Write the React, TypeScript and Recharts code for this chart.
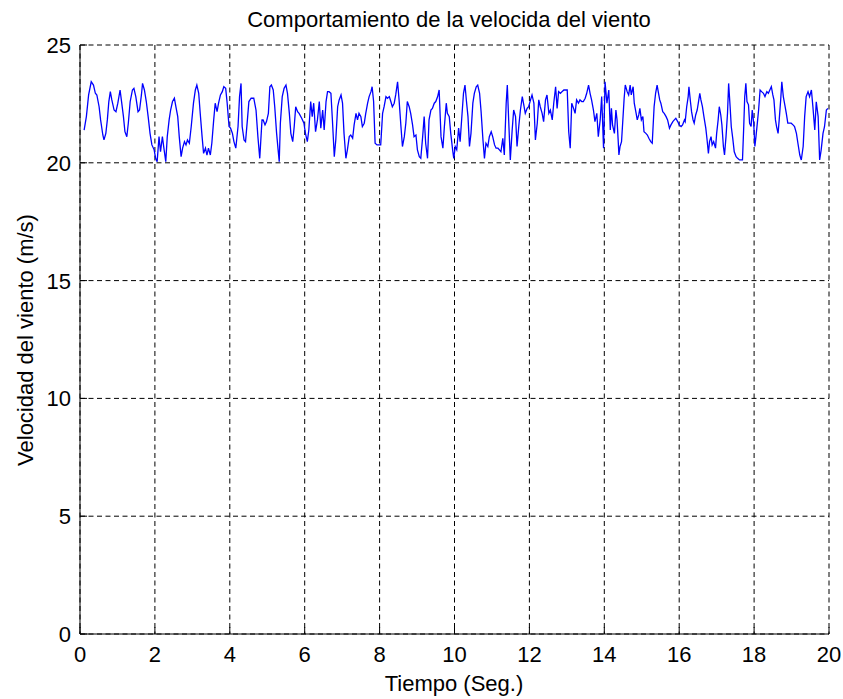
import React from 'react';
import { LineChart, Line, XAxis, YAxis, CartesianGrid } from 'recharts';

const TITLE = 'Comportamiento de la velocida del viento';
const X_LABEL = 'Tiempo (Seg.)';
const Y_LABEL = 'Velocidad del viento (m/s)';
const X_TICKS = [0, 2, 4, 6, 8, 10, 12, 14, 16, 18, 20];
const Y_TICKS = [0, 5, 10, 15, 20, 25];

// [time (s), wind speed (m/s)]
const wind0to5: [number, number][] = [
  [0.11, 21.39], [0.17, 21.96], [0.23, 22.88], [0.30, 23.44], [0.36, 23.30], [0.41, 22.95], [0.45, 22.88],
  [0.51, 22.38], [0.55, 21.82], [0.61, 21.18], [0.64, 20.97], [0.69, 21.25], [0.73, 21.82], [0.77, 22.60],
  [0.81, 23.02], [0.85, 22.67], [0.91, 22.24], [0.96, 22.17], [1.01, 22.53], [1.07, 23.09], [1.11, 22.60],
  [1.16, 21.96], [1.20, 21.32], [1.25, 21.11], [1.29, 21.68], [1.34, 22.60], [1.40, 23.09], [1.44, 23.16],
  [1.49, 22.81], [1.55, 22.17], [1.59, 22.24], [1.64, 22.88], [1.67, 23.37], [1.72, 23.09], [1.77, 22.60],
  [1.82, 21.96], [1.87, 21.25], [1.92, 20.76], [1.98, 20.55], [2.02, 20.19], [2.06, 20.05], [2.11, 21.11],
  [2.15, 20.47], [2.20, 21.11], [2.24, 20.62], [2.29, 20.05], [2.33, 21.11], [2.38, 21.82], [2.42, 22.24],
  [2.47, 22.60], [2.52, 22.74], [2.56, 22.38], [2.61, 21.96], [2.65, 21.11], [2.70, 20.26], [2.74, 20.62],
  [2.79, 20.90], [2.83, 20.76], [2.87, 20.97], [2.92, 20.83], [2.97, 21.54], [3.03, 22.53], [3.08, 23.09],
  [3.12, 23.30], [3.17, 22.95], [3.21, 22.10], [3.26, 21.11], [3.30, 20.40], [3.35, 20.62], [3.39, 20.33],
  [3.43, 20.62], [3.48, 20.33], [3.52, 20.83], [3.57, 21.82], [3.61, 22.53], [3.66, 22.17], [3.70, 22.53],
  [3.75, 22.88], [3.80, 23.02], [3.84, 23.23], [3.89, 23.16], [3.93, 22.53], [3.98, 21.54], [4.02, 21.47],
  [4.07, 21.25], [4.11, 20.90], [4.16, 20.62], [4.22, 21.54], [4.26, 22.81], [4.30, 23.37], [4.33, 21.54],
  [4.38, 20.97], [4.42, 20.90], [4.47, 21.82], [4.51, 22.60], [4.57, 22.74], [4.64, 22.74], [4.70, 22.24],
  [4.75, 21.11], [4.80, 20.19], [4.86, 21.82],
];

const wind5to10: [number, number][] = [
  [4.89, 21.82], [4.94, 21.61], [4.98, 21.75], [5.03, 22.10], [5.07, 23.23], [5.11, 23.30], [5.16, 23.09],
  [5.20, 22.38], [5.25, 21.25], [5.29, 20.55], [5.32, 20.05], [5.35, 21.68], [5.40, 22.81], [5.45, 23.16],
  [5.50, 23.30], [5.54, 22.95], [5.59, 22.10], [5.63, 21.25], [5.68, 20.90], [5.72, 21.54], [5.76, 22.38],
  [5.81, 22.17], [5.85, 22.10], [5.92, 21.89], [5.98, 21.68], [6.02, 21.25], [6.07, 20.90], [6.11, 21.39],
  [6.16, 22.60], [6.20, 21.96], [6.24, 22.53], [6.29, 21.32], [6.34, 21.82], [6.39, 22.60], [6.43, 21.47],
  [6.48, 22.24], [6.52, 21.39], [6.57, 22.60], [6.61, 23.02], [6.65, 23.02], [6.70, 22.95], [6.74, 21.82],
  [6.79, 20.26], [6.83, 20.97], [6.88, 22.38], [6.92, 22.67], [6.97, 22.88], [7.01, 22.53], [7.05, 21.25],
  [7.10, 20.19], [7.14, 20.55], [7.19, 21.11], [7.23, 21.18], [7.28, 21.04], [7.32, 21.61], [7.37, 22.10],
  [7.41, 21.82], [7.45, 22.10], [7.50, 21.96], [7.54, 21.54], [7.59, 21.68], [7.63, 22.10], [7.68, 22.53],
  [7.72, 22.81], [7.77, 23.02], [7.80, 23.23], [7.84, 22.60], [7.88, 20.83], [7.93, 20.76], [7.98, 20.76],
  [8.03, 20.76], [8.08, 22.10], [8.12, 22.38], [8.17, 22.81], [8.21, 22.74], [8.26, 22.81], [8.30, 22.60],
  [8.34, 22.38], [8.39, 22.53], [8.43, 22.88], [8.48, 23.44], [8.52, 22.67], [8.57, 21.54], [8.61, 20.69],
  [8.66, 21.11], [8.70, 21.68], [8.74, 22.60], [8.79, 22.38], [8.83, 22.10], [8.88, 21.61], [8.92, 21.11],
  [8.97, 21.18], [9.01, 20.55], [9.06, 20.26], [9.10, 20.19], [9.15, 21.11], [9.19, 21.96], [9.23, 20.83],
  [9.28, 20.19], [9.32, 21.82], [9.37, 22.24], [9.41, 22.31], [9.46, 22.53], [9.50, 22.60], [9.55, 22.81],
  [9.59, 23.09],
];

const wind10to14: [number, number][] = [
  [9.64, 21.11], [9.69, 20.62], [9.73, 21.54], [9.78, 22.53], [9.81, 22.10], [9.86, 21.96], [9.90, 21.25],
  [9.95, 20.55], [9.98, 20.19], [10.02, 20.69], [10.06, 20.55], [10.11, 21.47], [10.15, 20.90], [10.19, 21.82],
  [10.24, 22.95], [10.28, 23.30], [10.32, 22.60], [10.36, 21.96], [10.40, 20.69], [10.44, 21.25], [10.49, 22.53],
  [10.53, 22.95], [10.58, 23.23], [10.62, 23.30], [10.67, 22.95], [10.71, 22.17], [10.76, 20.97], [10.80, 20.19],
  [10.84, 20.83], [10.89, 20.69], [10.93, 21.11], [10.98, 21.32], [11.02, 21.11], [11.07, 20.76], [11.11, 20.62],
  [11.16, 20.62], [11.20, 20.55], [11.24, 20.47], [11.29, 21.04], [11.33, 20.33], [11.38, 22.53], [11.41, 23.30],
  [11.45, 21.68], [11.49, 20.12], [11.54, 21.39], [11.58, 22.24], [11.63, 21.96], [11.67, 20.69], [11.72, 21.61],
  [11.76, 22.24], [11.81, 22.81], [11.85, 22.46], [11.89, 22.10], [11.94, 22.31], [11.98, 22.38], [12.03, 22.67],
  [12.07, 22.88], [12.12, 22.53], [12.16, 20.97], [12.21, 21.68], [12.25, 22.67], [12.29, 22.38], [12.34, 22.10],
  [12.38, 21.75], [12.43, 22.67], [12.47, 22.88], [12.52, 22.10], [12.56, 22.24], [12.61, 21.82], [12.65, 22.53],
  [12.70, 23.23], [12.74, 22.31], [12.78, 23.02], [12.83, 22.95], [12.87, 23.02], [12.92, 23.09], [12.96, 23.09],
  [13.01, 23.09], [13.05, 21.32], [13.09, 20.62], [13.13, 22.53], [13.18, 22.31], [13.22, 22.10], [13.26, 22.67],
  [13.31, 22.53], [13.35, 22.67], [13.40, 22.60], [13.44, 22.60], [13.49, 22.74], [13.53, 22.95], [13.58, 23.30],
  [13.62, 22.95], [13.66, 22.67], [13.71, 22.24], [13.75, 21.75], [13.80, 22.10], [13.84, 21.11], [13.89, 21.82],
  [13.93, 22.81], [13.98, 20.62], [14.02, 23.44], [14.07, 22.53],
];

const wind14to19: [number, number][] = [
  [14.12, 23.09], [14.16, 21.39], [14.19, 22.31], [14.22, 21.61], [14.27, 21.25], [14.31, 22.24], [14.34, 21.82],
  [14.37, 20.97], [14.39, 20.33], [14.42, 20.69], [14.46, 20.90], [14.49, 21.68], [14.53, 22.74], [14.56, 23.30],
  [14.61, 23.02], [14.65, 22.88], [14.69, 23.30], [14.72, 22.88], [14.77, 23.23], [14.80, 22.53], [14.85, 22.10],
  [14.88, 21.82], [14.92, 22.03], [14.95, 22.31], [14.99, 21.82], [15.03, 21.96], [15.06, 21.32], [15.11, 21.25],
  [15.15, 21.18], [15.19, 21.04], [15.24, 20.90], [15.28, 20.83], [15.33, 22.38], [15.37, 22.95], [15.41, 23.30],
  [15.44, 23.02], [15.48, 22.67], [15.51, 22.53], [15.56, 22.17], [15.60, 22.10], [15.65, 21.96], [15.69, 21.82],
  [15.74, 21.47], [15.78, 21.61], [15.83, 21.75], [15.87, 21.82], [15.91, 21.89], [15.96, 21.75], [16.00, 21.61],
  [16.05, 21.54], [16.09, 21.61], [16.14, 21.82], [16.16, 21.75], [16.20, 22.38], [16.24, 22.81], [16.26, 23.23],
  [16.30, 22.60], [16.33, 22.17], [16.37, 21.82], [16.40, 21.68], [16.44, 22.03], [16.48, 22.24], [16.51, 22.53],
  [16.55, 22.95], [16.58, 22.67], [16.62, 22.38], [16.66, 21.96], [16.71, 21.47], [16.74, 21.04], [16.78, 20.40],
  [16.81, 20.90], [16.85, 21.11], [16.88, 20.76], [16.92, 20.90], [16.97, 20.62], [17.00, 21.25], [17.04, 21.82],
  [17.07, 22.38], [17.11, 22.03], [17.14, 21.61], [17.18, 20.69], [17.21, 20.33], [17.25, 21.11], [17.29, 22.10],
  [17.32, 23.37], [17.36, 22.38], [17.39, 21.54], [17.43, 21.04], [17.47, 20.47], [17.52, 20.26], [17.56, 20.19],
  [17.61, 20.12], [17.65, 20.12], [17.69, 20.12], [17.72, 21.39], [17.75, 22.81], [17.78, 23.37], [17.81, 22.60],
  [17.85, 22.46], [17.88, 21.68], [17.92, 21.54], [17.95, 22.24], [17.99, 21.68], [18.02, 20.69], [18.05, 21.11],
  [18.09, 21.75], [18.12, 22.24], [18.16, 23.09], [18.20, 23.02], [18.25, 22.95], [18.29, 22.81], [18.34, 23.02],
  [18.38, 22.95], [18.42, 23.09], [18.46, 23.23], [18.50, 22.88], [18.53, 22.67], [18.57, 21.82], [18.60, 21.54],
  [18.64, 21.25], [18.67, 21.82], [18.71, 22.67], [18.74, 23.44], [18.78, 22.81], [18.82, 22.46], [18.86, 22.10],
  [18.90, 21.68], [18.95, 21.68], [18.99, 21.68], [19.04, 21.61], [19.08, 21.54],
];

const wind19to20: [number, number][] = [
  [19.13, 21.25], [19.17, 20.83], [19.22, 20.33], [19.26, 20.12], [19.31, 20.69], [19.35, 21.96], [19.39, 22.81],
  [19.44, 23.02], [19.48, 22.81], [19.53, 23.09], [19.57, 22.38], [19.62, 21.39], [19.66, 22.59], [19.71, 21.96],
  [19.75, 20.12], [19.79, 20.54], [19.84, 21.25], [19.88, 21.53], [19.93, 22.24], [19.97, 22.31],
];

const data = [...wind0to5, ...wind5to10, ...wind10to14, ...wind14to19, ...wind19to20].map(([t, v]) => ({ t, v }));

const FONT = '"Liberation Sans", Arial, Helvetica, sans-serif';
const FS = 22;
const INK = '#000';
const TICK_LEN = 7;

const BottomTick = (props: any) => {
  const { x, y, payload } = props;
  return (
    <g>
      <line x1={x} x2={x} y1={y} y2={y - TICK_LEN} stroke={INK} strokeWidth={1} />
      <text x={x} y={y + 28} textAnchor="middle" fontSize={FS} fontFamily={FONT} fill={INK}>
        {payload.value}
      </text>
    </g>
  );
};

const TopTick = (props: any) => {
  const { x, y } = props;
  return <line x1={x} x2={x} y1={y} y2={y + TICK_LEN} stroke={INK} strokeWidth={1} />;
};

const LeftTick = (props: any) => {
  const { x, y, payload } = props;
  return (
    <g>
      <line x1={x} x2={x + TICK_LEN} y1={y} y2={y} stroke={INK} strokeWidth={1} />
      <text x={x - 9} y={y + 8} textAnchor="end" fontSize={FS} fontFamily={FONT} fill={INK}>
        {payload.value}
      </text>
    </g>
  );
};

const RightTick = (props: any) => {
  const { x, y } = props;
  return <line x1={x} x2={x - TICK_LEN} y1={y} y2={y} stroke={INK} strokeWidth={1} />;
};

export default function App() {
  return (
    <div style={{ position: 'absolute', left: 0, top: 0, width: 843, height: 699, background: '#fff' }}>
      <LineChart
        width={843}
        height={699}
        data={data}
        margin={{ top: 45, right: 14, bottom: 0, left: 10 }}
      >
        <CartesianGrid stroke={INK} strokeDasharray="5 3.5" strokeWidth={1} />
        <XAxis
          dataKey="t"
          type="number"
          domain={[0, 20]}
          ticks={X_TICKS}
          interval={0}
          allowDataOverflow
          height={65}
          tickSize={0}
          tickMargin={0}
          tickLine={false}
          tick={BottomTick}
          axisLine={{ stroke: INK, strokeWidth: 1 }}
        />
        <XAxis
          xAxisId="top"
          orientation="top"
          dataKey="t"
          type="number"
          domain={[0, 20]}
          ticks={X_TICKS}
          interval={0}
          allowDataOverflow
          height={0}
          tickSize={0}
          tickMargin={0}
          tickLine={false}
          tick={TopTick}
          axisLine={{ stroke: INK, strokeWidth: 1 }}
        />
        <YAxis
          type="number"
          domain={[0, 25]}
          ticks={Y_TICKS}
          interval={0}
          allowDataOverflow
          width={70}
          tickSize={0}
          tickMargin={0}
          tickLine={false}
          tick={LeftTick}
          axisLine={{ stroke: INK, strokeWidth: 1 }}
        />
        <YAxis
          yAxisId="right"
          orientation="right"
          type="number"
          domain={[0, 25]}
          ticks={Y_TICKS}
          interval={0}
          allowDataOverflow
          width={0}
          tickSize={0}
          tickMargin={0}
          tickLine={false}
          tick={RightTick}
          axisLine={{ stroke: INK, strokeWidth: 1 }}
        />
        <Line
          type="linear"
          dataKey="v"
          stroke="#0000ff"
          strokeWidth={1.3}
          dot={false}
          activeDot={false}
          isAnimationActive={false}
        />
      </LineChart>
      <svg
        width={843}
        height={699}
        style={{ position: 'absolute', left: 0, top: 0, pointerEvents: 'none' }}
      >
        <text x={449} y={27} textAnchor="middle" fontSize={FS} fontFamily={FONT} fill={INK}>
          {TITLE}
        </text>
        <text
          transform="translate(33, 340) rotate(-90)"
          textAnchor="middle"
          fontSize={FS}
          fontFamily={FONT}
          fill={INK}
        >
          {Y_LABEL}
        </text>
        <text x={454} y={691} textAnchor="middle" fontSize={FS} fontFamily={FONT} fill={INK}>
          {X_LABEL}
        </text>
      </svg>
    </div>
  );
}
